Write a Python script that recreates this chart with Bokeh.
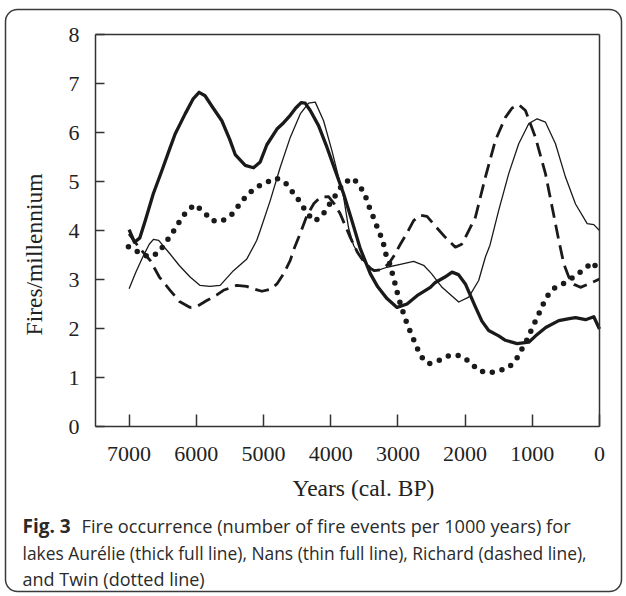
import math
from bokeh.plotting import figure
from bokeh.models import Range1d, FixedTicker, Label, BoxAnnotation, LinearAxis
from bokeh.embed import file_html
from bokeh.resources import INLINE

# ---------------- data ----------------
aurelie_years = [7000, 6920, 6840, 6760, 6640, 6513, 6400, 6315, 6166, 6050, 5958, 5870, 5760,
                 5620, 5500, 5421, 5272, 5149, 5049, 4950, 4800, 4700, 4602, 4520, 4440, 4380,
                 4304, 4181, 4056, 3932, 3808, 3684, 3560, 3411, 3300, 3162, 3013, 2864, 2715,
                 2517, 2443, 2300, 2194, 2100, 1996, 1850, 1750, 1649, 1500, 1400, 1226, 1053,
                 950, 800, 606, 450, 357, 208, 85, 0]
aurelie_fires = [4.02, 3.76, 3.85, 4.20, 4.75, 5.22, 5.65, 5.97, 6.38, 6.68, 6.82, 6.75, 6.52,
                 6.24, 5.85, 5.55, 5.33, 5.28, 5.40, 5.75, 6.07, 6.20, 6.35, 6.50, 6.61, 6.60,
                 6.45, 6.14, 5.70, 5.22, 4.75, 4.20, 3.63, 3.12, 2.85, 2.61, 2.43, 2.50, 2.67,
                 2.84, 2.94, 3.05, 3.15, 3.10, 2.91, 2.45, 2.15, 1.96, 1.85, 1.76, 1.69, 1.72,
                 1.85, 2.02, 2.16, 2.20, 2.22, 2.18, 2.24, 1.99]

nans_years = [7000, 6900, 6800, 6700, 6638, 6560, 6390, 6250, 6092, 5943, 5800, 5645, 5447,
              5248, 5100, 5049, 4900, 4751, 4602, 4453, 4329, 4230, 4106, 3982, 3883, 3808,
              3734, 3660, 3560, 3411, 3312, 3162, 2964, 2766, 2617, 2500, 2343, 2095, 1946,
              1798, 1698, 1630, 1500, 1351, 1202, 1053, 928, 804, 655, 506, 357, 183, 85, 0]
nans_fires = [2.81, 3.15, 3.45, 3.72, 3.82, 3.80, 3.52, 3.28, 3.05, 2.88, 2.86, 2.88, 3.18,
              3.42, 3.80, 4.00, 4.61, 5.29, 5.90, 6.38, 6.60, 6.62, 6.24, 5.63, 5.09, 4.68,
              4.05, 3.70, 3.46, 3.22, 3.18, 3.25, 3.31, 3.37, 3.29, 3.12, 2.84, 2.54, 2.64,
              2.98, 3.46, 3.70, 4.41, 5.16, 5.77, 6.18, 6.28, 6.21, 5.77, 5.09, 4.54, 4.14, 4.12, 4.00]

richard_years = [7000, 6850, 6687, 6550, 6390, 6250, 6092, 5990, 5844, 5700, 5596, 5397, 5250,
                 5149, 5024, 4900, 4800, 4700, 4602, 4553, 4450, 4355, 4250, 4155, 4032, 3950,
                 3858, 3709, 3600, 3500, 3400, 3350, 3250, 3137, 3050, 2964, 2864, 2766, 2666,
                 2567, 2450, 2294, 2145, 2050, 1996, 1847, 1698, 1549, 1400, 1300, 1202, 1102,
                 953, 804, 705, 606, 531, 457, 380, 283, 159, 0]
richard_fires = [3.93, 3.65, 3.39, 3.05, 2.78, 2.55, 2.43, 2.45, 2.57, 2.68, 2.78, 2.88, 2.86,
                 2.81, 2.76, 2.80, 2.91, 3.12, 3.39, 3.60, 3.95, 4.30, 4.55, 4.68, 4.69, 4.55,
                 4.34, 3.86, 3.55, 3.35, 3.22, 3.18, 3.20, 3.32, 3.50, 3.72, 3.95, 4.20, 4.31,
                 4.29, 4.10, 3.86, 3.66, 3.72, 3.86, 4.27, 5.09, 5.84, 6.31, 6.50, 6.57, 6.45,
                 5.90, 5.16, 4.48, 3.80, 3.32, 3.05, 2.90, 2.84, 2.91, 3.01]

twin_years = [7010, 6861, 6712, 6564, 6464, 6355, 6265, 6166, 6027, 5894, 5769, 5620, 5471,
              5357, 5243, 5109, 4975, 4811, 4672, 4553, 4443, 4355, 4230, 4106, 4006, 3907,
              3808, 3669, 3560, 3481, 3430, 3371, 3311, 3252, 3202, 3172, 3113, 3073, 3033,
              2999, 2954, 2904, 2855, 2785, 2726, 2656, 2542, 2383, 2234, 2085, 1936, 1798,
              1649, 1500, 1351, 1226, 1142, 1062, 1003, 928, 864, 794, 695, 546, 407, 258,
              100, 0]
twin_fires = [3.67, 3.56, 3.46, 3.54, 3.74, 3.95, 4.15, 4.35, 4.53, 4.39, 4.20, 4.19, 4.33,
              4.53, 4.73, 4.88, 4.97, 5.07, 4.97, 4.76, 4.56, 4.35, 4.19, 4.35, 4.56, 4.76,
              4.97, 5.07, 4.90, 4.69, 4.49, 4.29, 4.08, 3.88, 3.67, 3.47, 3.29, 3.07, 2.87,
              2.67, 2.46, 2.26, 2.06, 1.84, 1.64, 1.43, 1.28, 1.35, 1.45, 1.45, 1.33, 1.14,
              1.09, 1.14, 1.20, 1.40, 1.61, 1.81, 2.01, 2.22, 2.42, 2.63, 2.81, 2.91, 3.03, 3.18,
              3.35, 3.15]

x_ticks = [7000, 6000, 5000, 4000, 3000, 2000, 1000, 0]
y_ticks = [0, 1, 2, 3, 4, 5, 6, 7, 8]
x_label = "Years (cal. BP)"
y_label = "Fires/millennium"
caption_bold = "Fig. 3"
caption_line1 = "Fire occurrence (number of fire events per 1000 years) for"
caption_line2 = "lakes Aurélie (thick full line), Nans (thin full line), Richard (dashed line),"
caption_line3 = "and Twin (dotted line)"

# ---------------- layout ----------------
W, H = 626, 596
# pixel box of the data area in the reference picture
PX_L, PX_R, PY_T, PY_B = 95, 599, 34, 426
XMAX, XMIN, YMIN, YMAX = 7500, 0, 0, 8

def dx(px):
    return XMAX - (px - PX_L) * (XMAX - XMIN) / (PX_R - PX_L)

def dy(py):
    return YMAX - (py - PY_T) * (YMAX - YMIN) / (PY_B - PY_T)

p = figure(width=W, height=H,
           x_range=Range1d(dx(0), dx(W)), y_range=Range1d(dy(H), dy(0)),
           output_backend="svg", toolbar_location=None,
           min_border=0, min_border_left=0, min_border_right=0,
           min_border_top=0, min_border_bottom=0)

p.background_fill_color = "white"
p.border_fill_color = "white"
p.outline_line_color = None
p.xgrid.visible = False
p.ygrid.visible = False

axis_col = "#333333"
serif = "Liberation Serif"
for ax in (p.xaxis, p.yaxis):
    ax.axis_line_color = axis_col
    ax.axis_line_width = 1.5
    ax.major_tick_line_color = axis_col
    ax.major_tick_line_width = 1.5
    ax.minor_tick_line_color = None
    ax.major_tick_out = 0
    ax.major_label_text_font = serif
    ax.major_label_text_font_size = "22px"
    ax.major_label_text_color = "#222222"

p.xaxis.ticker = FixedTicker(ticks=x_ticks)
p.yaxis.ticker = FixedTicker(ticks=y_ticks)
p.xaxis.fixed_location = YMIN
p.yaxis.fixed_location = XMAX
p.xaxis.bounds = (XMIN, XMAX)
p.yaxis.bounds = (YMIN, YMAX)
p.xaxis.major_tick_in = 12
p.yaxis.major_tick_in = 9
p.xaxis.major_label_standoff = 20
p.yaxis.major_label_standoff = 16

# top and right sides of the box
top_axis = LinearAxis(fixed_location=YMAX, bounds=(XMIN, XMAX), ticker=FixedTicker(ticks=[]),
                      axis_line_color=axis_col, axis_line_width=1.5,
                      major_tick_line_color=None, minor_tick_line_color=None,
                      major_label_text_font_size="0px")
right_axis = LinearAxis(fixed_location=XMIN, bounds=(YMIN, YMAX), ticker=FixedTicker(ticks=[]),
                        axis_line_color=axis_col, axis_line_width=1.5,
                        major_tick_line_color=None, minor_tick_line_color=None,
                        major_label_text_font_size="0px")
p.add_layout(top_axis, "above")
p.add_layout(right_axis, "right")

ink = "#1a1a1a"
p.line(aurelie_years, aurelie_fires, line_color=ink, line_width=3.3, line_join="round")
p.line(nans_years, nans_fires, line_color=ink, line_width=1.3, line_join="round")
p.line(richard_years, richard_fires, line_color=ink, line_width=2.8, line_dash="14 7",
       line_join="round")
p.line(twin_years, twin_fires, line_color=ink, line_width=5.5, line_dash="0 10",
       line_cap="round", line_join="round")

# axis titles
p.add_layout(Label(x=dx(363), y=dy(487), text=x_label, text_font=serif,
                   text_font_size="23.5px", text_color="#222222",
                   text_align="center", text_baseline="middle"))
p.add_layout(Label(x=dx(33), y=dy(254), text=y_label, text_font=serif,
                   text_font_size="23.5px", text_color="#222222", angle=math.pi / 2,
                   text_align="center", text_baseline="middle"))

# caption
cap_font = "Open Sans"
cap_col = "#2a2a2a"
p.add_layout(Label(x=dx(22), y=dy(525), text=caption_bold, text_font=cap_font,
                   text_font_size="19px", text_font_style="bold", text_color=cap_col,
                   text_baseline="middle", text_align="left"))
p.add_layout(Label(x=dx(81), y=dy(525), text=caption_line1, text_font=cap_font,
                   text_font_size="18.2px", text_color=cap_col,
                   text_baseline="middle", text_align="left"))
p.add_layout(Label(x=dx(22), y=dy(552), text=caption_line2, text_font=cap_font,
                   text_font_size="17.4px", text_color=cap_col,
                   text_baseline="middle", text_align="left"))
p.add_layout(Label(x=dx(22), y=dy(578), text=caption_line3, text_font=cap_font,
                   text_font_size="18px", text_color=cap_col,
                   text_baseline="middle", text_align="left"))

# rounded outer border
p.add_layout(BoxAnnotation(left=dx(5), right=dx(621), top=dy(9), bottom=dy(591),
                           fill_color=None, fill_alpha=0, line_color="#3a3a3a",
                           line_width=1.5, line_alpha=1.0, border_radius=12))

open("out.html", "w").write(file_html(p, INLINE))
